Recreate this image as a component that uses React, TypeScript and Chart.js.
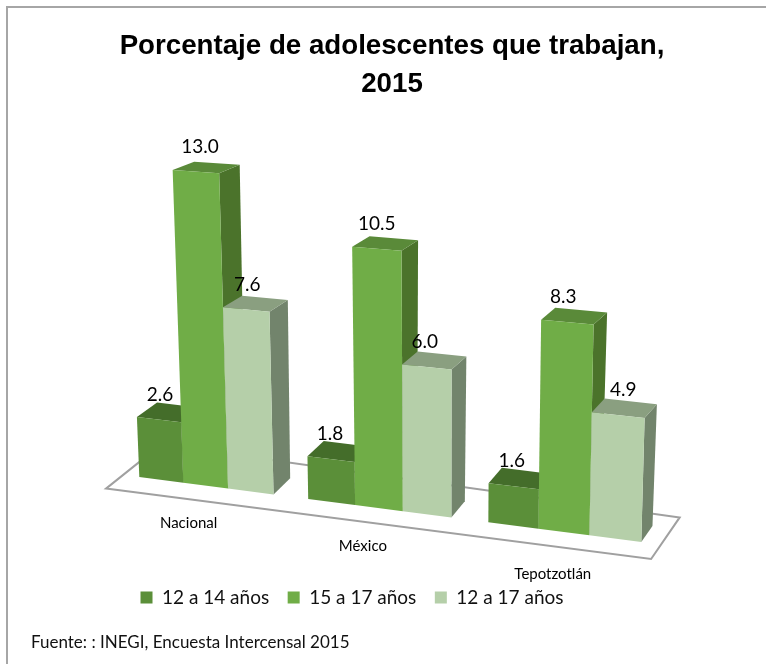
import React, { useEffect, useRef } from "react";
import { Chart, registerables } from "chart.js";

Chart.register(...registerables);

const categories = ["Nacional", "México", "Tepotzotlán"];
const seriesNames = ["12 a 14 años", "15 a 17 años", "12 a 17 años"];
const ages12to14 = [2.6, 1.8, 1.6];
const ages15to17 = [13.0, 10.5, 8.3];
const ages12to17 = [7.6, 6.0, 4.9];
const titleLines = ["Porcentaje de adolescentes que trabajan,", "2015"];
const sourceNote = "Fuente: : INEGI, Encuesta Intercensal 2015";

const frontColors = ["#5B8F39", "#70AD47", "#B5CFA9"];
const topColors = ["#446D2A", "#5A8A39", "#8A9F80"];
const sideColors = ["#446D2A", "#4B732B", "#72846C"];

const FONT = "Lato, Carlito, Calibri, sans-serif";
const REF_MAX = 13;

type P = [number, number];
type Quad = [P, P, P, P];

// Plane corners as bottom-left, bottom-right, top-right, top-left
const FRONT: Quad = [[123, 475], [661, 544.6], [671, 205], [110, 165.5]];
const BACK: Quad = [[143, 459], [672, 528.6], [685, 195], [133, 157.5]];
const LABEL_OFFSETS: P[] = [[-17, 37], [-16, 38], [-11, 42]];
// Per-bar horizontal label shift, by category then series
const LABEL_NUDGES = [[1, 4, 1], [-1, 0, -2], [-2, -4, 5]];

function homography(q: Quad) {
  const [[x0, y0], [x1, y1], [x2, y2], [x3, y3]] = q;
  const dx1 = x1 - x2, dx2 = x3 - x2, dx3 = x0 - x1 + x2 - x3;
  const dy1 = y1 - y2, dy2 = y3 - y2, dy3 = y0 - y1 + y2 - y3;
  const den = dx1 * dy2 - dx2 * dy1;
  const g = (dx3 * dy2 - dx2 * dy3) / den;
  const h = (dx1 * dy3 - dx3 * dy1) / den;
  const a = x1 - x0 + g * x1, b = x3 - x0 + h * x3;
  const d = y1 - y0 + g * y1, e = y3 - y0 + h * y3;
  return (u: number, v: number): P => {
    const w = g * u + h * v + 1;
    return [(a * u + b * v + x0) / w, (d * u + e * v + y0) / w];
  };
}

const front = homography(FRONT);
const back = homography(BACK);

function poly(ctx: CanvasRenderingContext2D, pts: P[], fill: string) {
  ctx.beginPath();
  pts.forEach((p, i) => (i ? ctx.lineTo(p[0], p[1]) : ctx.moveTo(p[0], p[1])));
  ctx.closePath();
  ctx.fillStyle = fill;
  ctx.fill();
}

const perspectivePlugin = {
  id: "perspectiveBars",
  afterLayout(chart: any) {
    chart.legend.left -= 31;
    chart.legend.right -= 31;
    chart.titleBlock.left += 9;
    chart.titleBlock.right += 9;
  },
  beforeDraw(chart: any) {
    const ctx = chart.ctx as CanvasRenderingContext2D;
    ctx.save();
    ctx.fillStyle = "#fff";
    ctx.fillRect(0, 0, chart.width, chart.height);
    ctx.strokeStyle = "#A6A6A6";
    ctx.lineWidth = 2;
    ctx.beginPath();
    ctx.moveTo(7, chart.height);
    ctx.lineTo(7, 7);
    ctx.lineTo(chart.width, 7);
    ctx.stroke();
    ctx.restore();
  },
  beforeDatasetsDraw(chart: any) {
    const ctx = chart.ctx as CanvasRenderingContext2D;
    const xs = chart.scales.x;
    const ys = chart.scales.y;
    const base = ys.getPixelForValue(0);
    const top = ys.getPixelForValue(REF_MAX);
    const U = (px: number) => (px - xs.left) / (xs.right - xs.left);
    const V = (py: number) => (base - py) / (base - top);
    const at = (f: typeof front, px: number, py: number) => f(U(px), V(py));
    const mix = (px: number, py: number, d: number): P => {
      const a = at(front, px, py);
      const b = at(back, px, py);
      return [a[0] + (b[0] - a[0]) * d, a[1] + (b[1] - a[1]) * d];
    };

    ctx.save();
    // floor
    ctx.beginPath();
    const floor = [
      mix(xs.left, base, -0.85),
      mix(xs.right, base, -0.9),
      mix(xs.right, base, 1.7),
      mix(xs.left, base, 1.9),
    ];
    floor.forEach((p, i) => (i ? ctx.lineTo(p[0], p[1]) : ctx.moveTo(p[0], p[1])));
    ctx.closePath();
    ctx.strokeStyle = "#A0A0A0";
    ctx.lineWidth = 2;
    ctx.stroke();

    // bars, painted left to right so nearer ones cover their neighbours
    const nDs = chart.data.datasets.length;
    categories.forEach((_, c) => {
      for (let s = 0; s < nDs; s++) {
        const el = chart.getDatasetMeta(s).data[c];
        const { x, y, width } = el.getProps(["x", "y", "width"], true);
        const l = x - width / 2;
        const r = x + width / 2;
        const fbl = at(front, l, base), fbr = at(front, r, base);
        const ftl = at(front, l, y), ftr = at(front, r, y);
        const bbr = at(back, r, base), btl = at(back, l, y), btr = at(back, r, y);
        poly(ctx, [fbr, bbr, btr, ftr], sideColors[s]);
        poly(ctx, [ftl, ftr, btr, btl], topColors[s]);
        poly(ctx, [fbl, fbr, ftr, ftl], frontColors[s]);
      }
    });

    // value labels
    ctx.fillStyle = "#000";
    ctx.font = `19px ${FONT}`;
    ctx.textAlign = "center";
    ctx.textBaseline = "middle";
    categories.forEach((_, c) => {
      for (let s = 0; s < nDs; s++) {
        const el = chart.getDatasetMeta(s).data[c];
        const { x, y, width } = el.getProps(["x", "y", "width"], true);
        const a = at(front, x - width / 2, y);
        const b = at(front, x + width / 2, y);
        const v = chart.data.datasets[s].data[c] as number;
        ctx.fillText(v.toFixed(1), (a[0] + b[0]) / 2 + LABEL_NUDGES[c][s], (a[1] + b[1]) / 2 - 25);
      }
    });

    // category labels along the projected floor
    ctx.font = `15px ${FONT}`;
    categories.forEach((name, c) => {
      const p = at(front, xs.getPixelForValue(c), base);
      ctx.fillText(name, p[0] + LABEL_OFFSETS[c][0], p[1] + LABEL_OFFSETS[c][1]);
    });

    // source note
    ctx.textAlign = "left";
    ctx.fillStyle = "#111";
    ctx.font = `17px ${FONT}`;
    ctx.fillText(sourceNote, 31, 643);
    ctx.restore();
    return false;
  },
};

export default function App() {
  const ref = useRef<HTMLCanvasElement>(null);
  useEffect(() => {
    const chart = new Chart(ref.current!, {
      type: "bar",
      data: {
        labels: categories,
        datasets: [ages12to14, ages15to17, ages12to17].map((data, i) => ({
          label: seriesNames[i],
          data,
          backgroundColor: frontColors[i],
          barPercentage: 1,
          categoryPercentage: 0.8,
        })),
      },
      options: {
        responsive: false,
        animation: false,
        layout: { padding: { top: 28, bottom: 47 } },
        scales: {
          x: { display: false },
          y: { display: false, min: 0, max: 14 },
        },
        plugins: {
          tooltip: { enabled: false },
          title: {
            display: true,
            text: titleLines,
            color: "#000",
            padding: { top: 0, bottom: 0 },
            font: { family: "'Liberation Sans', sans-serif", size: 27.7, weight: "bold", lineHeight: 1.35 },
          },
          legend: {
            display: true,
            position: "bottom",
            labels: {
              boxWidth: 12,
              boxHeight: 12,
              padding: 18.5,
              color: "#111",
              font: { family: FONT, size: 19 },
            },
          },
        },
      },
      plugins: [perspectivePlugin],
    } as any);
    return () => chart.destroy();
  }, []);
  return (
    <div style={{ position: "absolute", left: 0, top: 0, width: 766, height: 664 }}>
      <canvas ref={ref} width={766} height={664} style={{ display: "block" }} />
    </div>
  );
}
